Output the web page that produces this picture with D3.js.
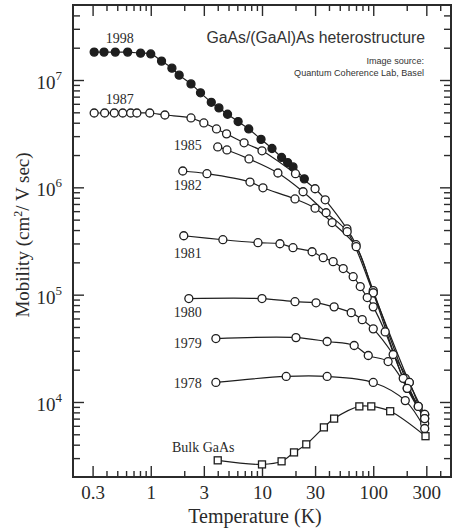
<!DOCTYPE html>
<html>
<head>
<meta charset="utf-8">
<script src="https://cdn.jsdelivr.net/npm/d3@7"></script>
<style>
  body { margin: 0; background: #fff; }
  svg { display: block; }
  .serif { font-family: "Liberation Serif", "DejaVu Serif", serif; fill: #2a2a2a; }
  .sans { font-family: "Liberation Sans", Arial, sans-serif; fill: #333; }
</style>
</head>
<body>
<svg width="456" height="532"></svg>
<script>
// temperature (K) / mobility (cm^2/Vs) pairs
const t1998 = [0.31, 0.38, 0.48, 0.62, 0.81, 1.0, 1.25, 1.55, 1.8, 2.3, 2.8, 3.5, 4.1, 4.9, 6.1, 7.6, 9.8, 12.3, 15, 17, 19, 24];
const mu1998 = [1.82e7, 1.82e7, 1.82e7, 1.82e7, 1.78e7, 1.75e7, 1.5e7, 1.29e7, 1.11e7, 9.2e6, 7.6e6, 6.2e6, 5.5e6, 4.8e6, 4.1e6, 3.5e6, 2.8e6, 2.3e6, 1.9e6, 1.7e6, 1.55e6, 1.2e6];

const t1987 = [0.31, 0.385, 0.47, 0.56, 0.66, 0.75, 0.98, 1.34, 2.3, 3.0, 3.9, 4.8, 6.9, 10, 20, 30, 37, 58, 70, 100, 194, 254, 290];
const mu1987 = [4.93e6, 4.93e6, 4.93e6, 4.93e6, 4.93e6, 4.93e6, 4.93e6, 4.72e6, 4.43e6, 3.98e6, 3.5e6, 3.15e6, 2.6e6, 2.19e6, 1.34e6, 9.7e5, 7.65e5, 4.1e5, 2.92e5, 1.09e5, 1.66e4, 9.1e3, 7.65e3];

const t1985 = [4.0, 4.84, 7.64, 13.9, 23.4, 37.7, 58.3, 100, 211, 290];
const mu1985 = [2.38e6, 2.23e6, 1.84e6, 1.36e6, 9.1e5, 5.8e5, 3.86e5, 1.04e5, 1.52e4, 7.65e3];

const t1982 = [1.94, 3.2, 7.8, 10.2, 19.8, 30, 42.7, 70.3, 100, 202, 290];
const mu1982 = [1.42e6, 1.34e6, 1.12e6, 9.9e5, 7.8e5, 6.4e5, 4.7e5, 2.8e5, 1.04e5, 1.34e4, 7.0e3];

const t1981 = [1.98, 4.45, 9.2, 14.5, 19, 28.2, 35.5, 43.6, 53.7, 66, 76.4, 88.3, 100, 128, 186, 254];
const mu1981 = [3.54e5, 3.25e5, 3.05e5, 2.98e5, 2.74e5, 2.51e5, 2.21e5, 2.03e5, 1.75e5, 1.47e5, 1.19e5, 9.4e4, 7.7e4, 4.5e4, 1.66e4, 9.1e3];

const t1980 = [2.2, 10, 19.8, 30.6, 44.5, 63.4, 79.6, 100, 151, 211, 290];
const mu1980 = [9.2e4, 9.2e4, 8.6e4, 8.4e4, 7.7e4, 6.8e4, 5.85e4, 4.8e4, 2.77e4, 1.52e4, 6.3e3];

const t1979 = [3.85, 20.2, 38.5, 67.4, 90.2, 136, 202, 290];
const mu1979 = [3.9e4, 3.98e4, 3.66e4, 3.36e4, 2.71e4, 2.38e4, 1.34e4, 7.0e3];

const t1978 = [3.85, 16.5, 38.5, 100, 194, 290];
const mu1978 = [1.52e4, 1.73e4, 1.73e4, 1.52e4, 1.03e4, 5.66e3];

const tBulk = [4.0, 10, 15, 19.4, 25, 36, 44.5, 75, 96, 142, 295];
const muBulk = [2.86e3, 2.62e3, 2.8e3, 3.39e3, 4.03e3, 5.8e3, 7.0e3, 9.1e3, 9.1e3, 8.2e3, 4.8e3];

const seriesNames = ["1998", "1987", "1985", "1982", "1981", "1980", "1979", "1978", "Bulk GaAs"];
const xTickLabels = ["0.3", "1", "3", "10", "30", "100", "300"];
const yTickExponents = [4, 5, 6, 7];

const series = [
    { name: seriesNames[0], t: t1998, mu: mu1998, marker: "filled" },
    { name: seriesNames[1], t: t1987, mu: mu1987, marker: "open" },
    { name: seriesNames[2], t: t1985, mu: mu1985, marker: "open" },
    { name: seriesNames[3], t: t1982, mu: mu1982, marker: "open" },
    { name: seriesNames[4], t: t1981, mu: mu1981, marker: "open" },
    { name: seriesNames[5], t: t1980, mu: mu1980, marker: "open" },
    { name: seriesNames[6], t: t1979, mu: mu1979, marker: "open" },
    { name: seriesNames[7], t: t1978, mu: mu1978, marker: "open" },
    { name: seriesNames[8], t: tBulk, mu: muBulk, marker: "square" }
];

// where each curve's name sits, in data coordinates
const annotations = [
    { t: 0.526, mu: 2.21e7, anchor: "middle" },
    { t: 0.526, mu: 5.98e6, anchor: "middle" },
    { t: 2.88, mu: 2.23e6, anchor: "end" },
    { t: 2.88, mu: 9.5e5, anchor: "end" },
    { t: 2.88, mu: 2.21e5, anchor: "end" },
    { t: 2.88, mu: 6.24e4, anchor: "end" },
    { t: 2.88, mu: 3.21e4, anchor: "end" },
    { t: 2.88, mu: 1.36e4, anchor: "end" },
    { t: 1.55, mu: 3.39e3, anchor: "start" }
];

const plotLeft = 73, plotRight = 451, plotTop = 5, plotBottom = 477;
const ink = "#1e1e1e";
const svg = d3.select("svg");

const x = d3.scaleLog().domain([0.2, 500]).range([plotLeft, plotRight]);
const y = d3.scaleLog().domain([2e3, 5e7]).range([plotBottom, plotTop]);

const near = (a, b) => Math.abs(a - b) / b < 1e-6;
const xMajor = xTickLabels.map(Number);
const xMinor = x.ticks().filter(v => v > 0.2 && v < 500 && !xMajor.some(m => near(v, m)));
const yMajor = yTickExponents.map(e => Math.pow(10, e));
const yMinor = y.ticks().filter(v => v > 2e3 && v < 5e7 && !yMajor.some(m => near(v, m)));

function ticks(axis, transform, values, size, fmt) {
    const g = svg.append("g")
        .attr("transform", transform)
        .call(axis.tickValues(values).tickSize(size).tickSizeOuter(0).tickFormat(fmt || ""));
    g.select(".domain").remove();
    g.selectAll("line").attr("stroke", "#2b2b2b").attr("stroke-width", 1.4);
    return g;
}

ticks(d3.axisBottom(x), `translate(0,${plotBottom})`, xMinor, -6);
const xLab = ticks(d3.axisBottom(x).tickPadding(9), `translate(0,${plotBottom})`, xMajor, -11, (d, i) => xTickLabels[i]);
xLab.attr("font-family", null).attr("font-size", null);
xLab.selectAll("text").attr("class", "serif").attr("fill", "#2a2a2a")
    .style("font-size", "19px");
ticks(d3.axisTop(x), `translate(0,${plotTop})`, xMinor, -6);
ticks(d3.axisTop(x), `translate(0,${plotTop})`, xMajor, -11);
ticks(d3.axisLeft(y), `translate(${plotLeft},0)`, yMinor, -7);
ticks(d3.axisLeft(y), `translate(${plotLeft},0)`, yMajor, -11);
ticks(d3.axisRight(y), `translate(${plotRight},0)`, yMinor, -7);
ticks(d3.axisRight(y), `translate(${plotRight},0)`, yMajor, -11);

svg.append("rect")
    .attr("x", plotLeft).attr("y", plotTop)
    .attr("width", plotRight - plotLeft).attr("height", plotBottom - plotTop)
    .attr("fill", "none").attr("stroke", "#2b2b2b").attr("stroke-width", 2);

// y tick labels as 10^n
const yl = svg.append("g").attr("class", "serif");
yMajor.forEach((v, i) => {
    const t = yl.append("text")
        .attr("x", plotLeft - 11).attr("y", y(v) + 9)
        .attr("text-anchor", "end")
        .style("font-size", "19px");
    t.append("tspan").text("10");
    t.append("tspan").attr("dy", -9).style("font-size", "13px").text(yTickExponents[i]);
});

const line = d3.line()
    .x(d => x(d[0]))
    .y(d => y(d[1]))
    .curve(d3.curveCatmullRom.alpha(0.5));

series.forEach(s => {
    svg.append("path")
        .datum(d3.zip(s.t, s.mu))
        .attr("d", line)
        .attr("fill", "none")
        .attr("stroke", ink)
        .attr("stroke-width", 1.2);
});

series.forEach(s => {
    const pts = d3.zip(s.t, s.mu);
    if (s.marker === "square") {
        svg.append("g").selectAll("rect")
            .data(pts).enter().append("rect")
            .attr("x", d => x(d[0]) - 3.5)
            .attr("y", d => y(d[1]) - 3.5)
            .attr("width", 7).attr("height", 7)
            .attr("fill", "#fff").attr("stroke", ink).attr("stroke-width", 1.3);
    } else {
        svg.append("g").selectAll("circle")
            .data(pts).enter().append("circle")
            .attr("cx", d => x(d[0]))
            .attr("cy", d => y(d[1]))
            .attr("r", 4)
            .attr("fill", s.marker === "filled" ? ink : "#fff")
            .attr("stroke", ink).attr("stroke-width", 1.3);
    }
});

// curve names
svg.append("g").attr("class", "serif").selectAll("text")
    .data(annotations).enter().append("text")
    .attr("x", d => x(d.t))
    .attr("y", d => y(d.mu))
    .attr("text-anchor", d => d.anchor)
    .style("font-size", "14px")
    .text((d, i) => seriesNames[i]);

// axis titles
svg.append("text").attr("class", "serif")
    .attr("x", 255).attr("y", 523)
    .attr("text-anchor", "middle")
    .style("font-size", "20px")
    .text("Temperature (K)");

const yt = svg.append("text").attr("class", "serif")
    .attr("transform", "translate(29,235) rotate(-90)")
    .attr("text-anchor", "middle")
    .style("font-size", "19px");
yt.append("tspan").text("Mobility (cm");
yt.append("tspan").attr("dy", -7).style("font-size", "12px").text("2");
yt.append("tspan").attr("dy", 7).text("/ V sec)");

// header
svg.append("text").attr("class", "sans")
    .attr("x", 425).attr("y", 43)
    .attr("text-anchor", "end")
    .style("font-size", "15.8px")
    .text("GaAs/(GaAl)As heterostructure");
svg.append("text").attr("class", "sans")
    .attr("x", 424).attr("y", 64)
    .attr("text-anchor", "end")
    .style("font-size", "9.1px")
    .text("Image source:");
svg.append("text").attr("class", "sans")
    .attr("x", 424).attr("y", 75.5)
    .attr("text-anchor", "end")
    .style("font-size", "9.1px")
    .text("Quantum Coherence Lab, Basel");
</script>
</body>
</html>
